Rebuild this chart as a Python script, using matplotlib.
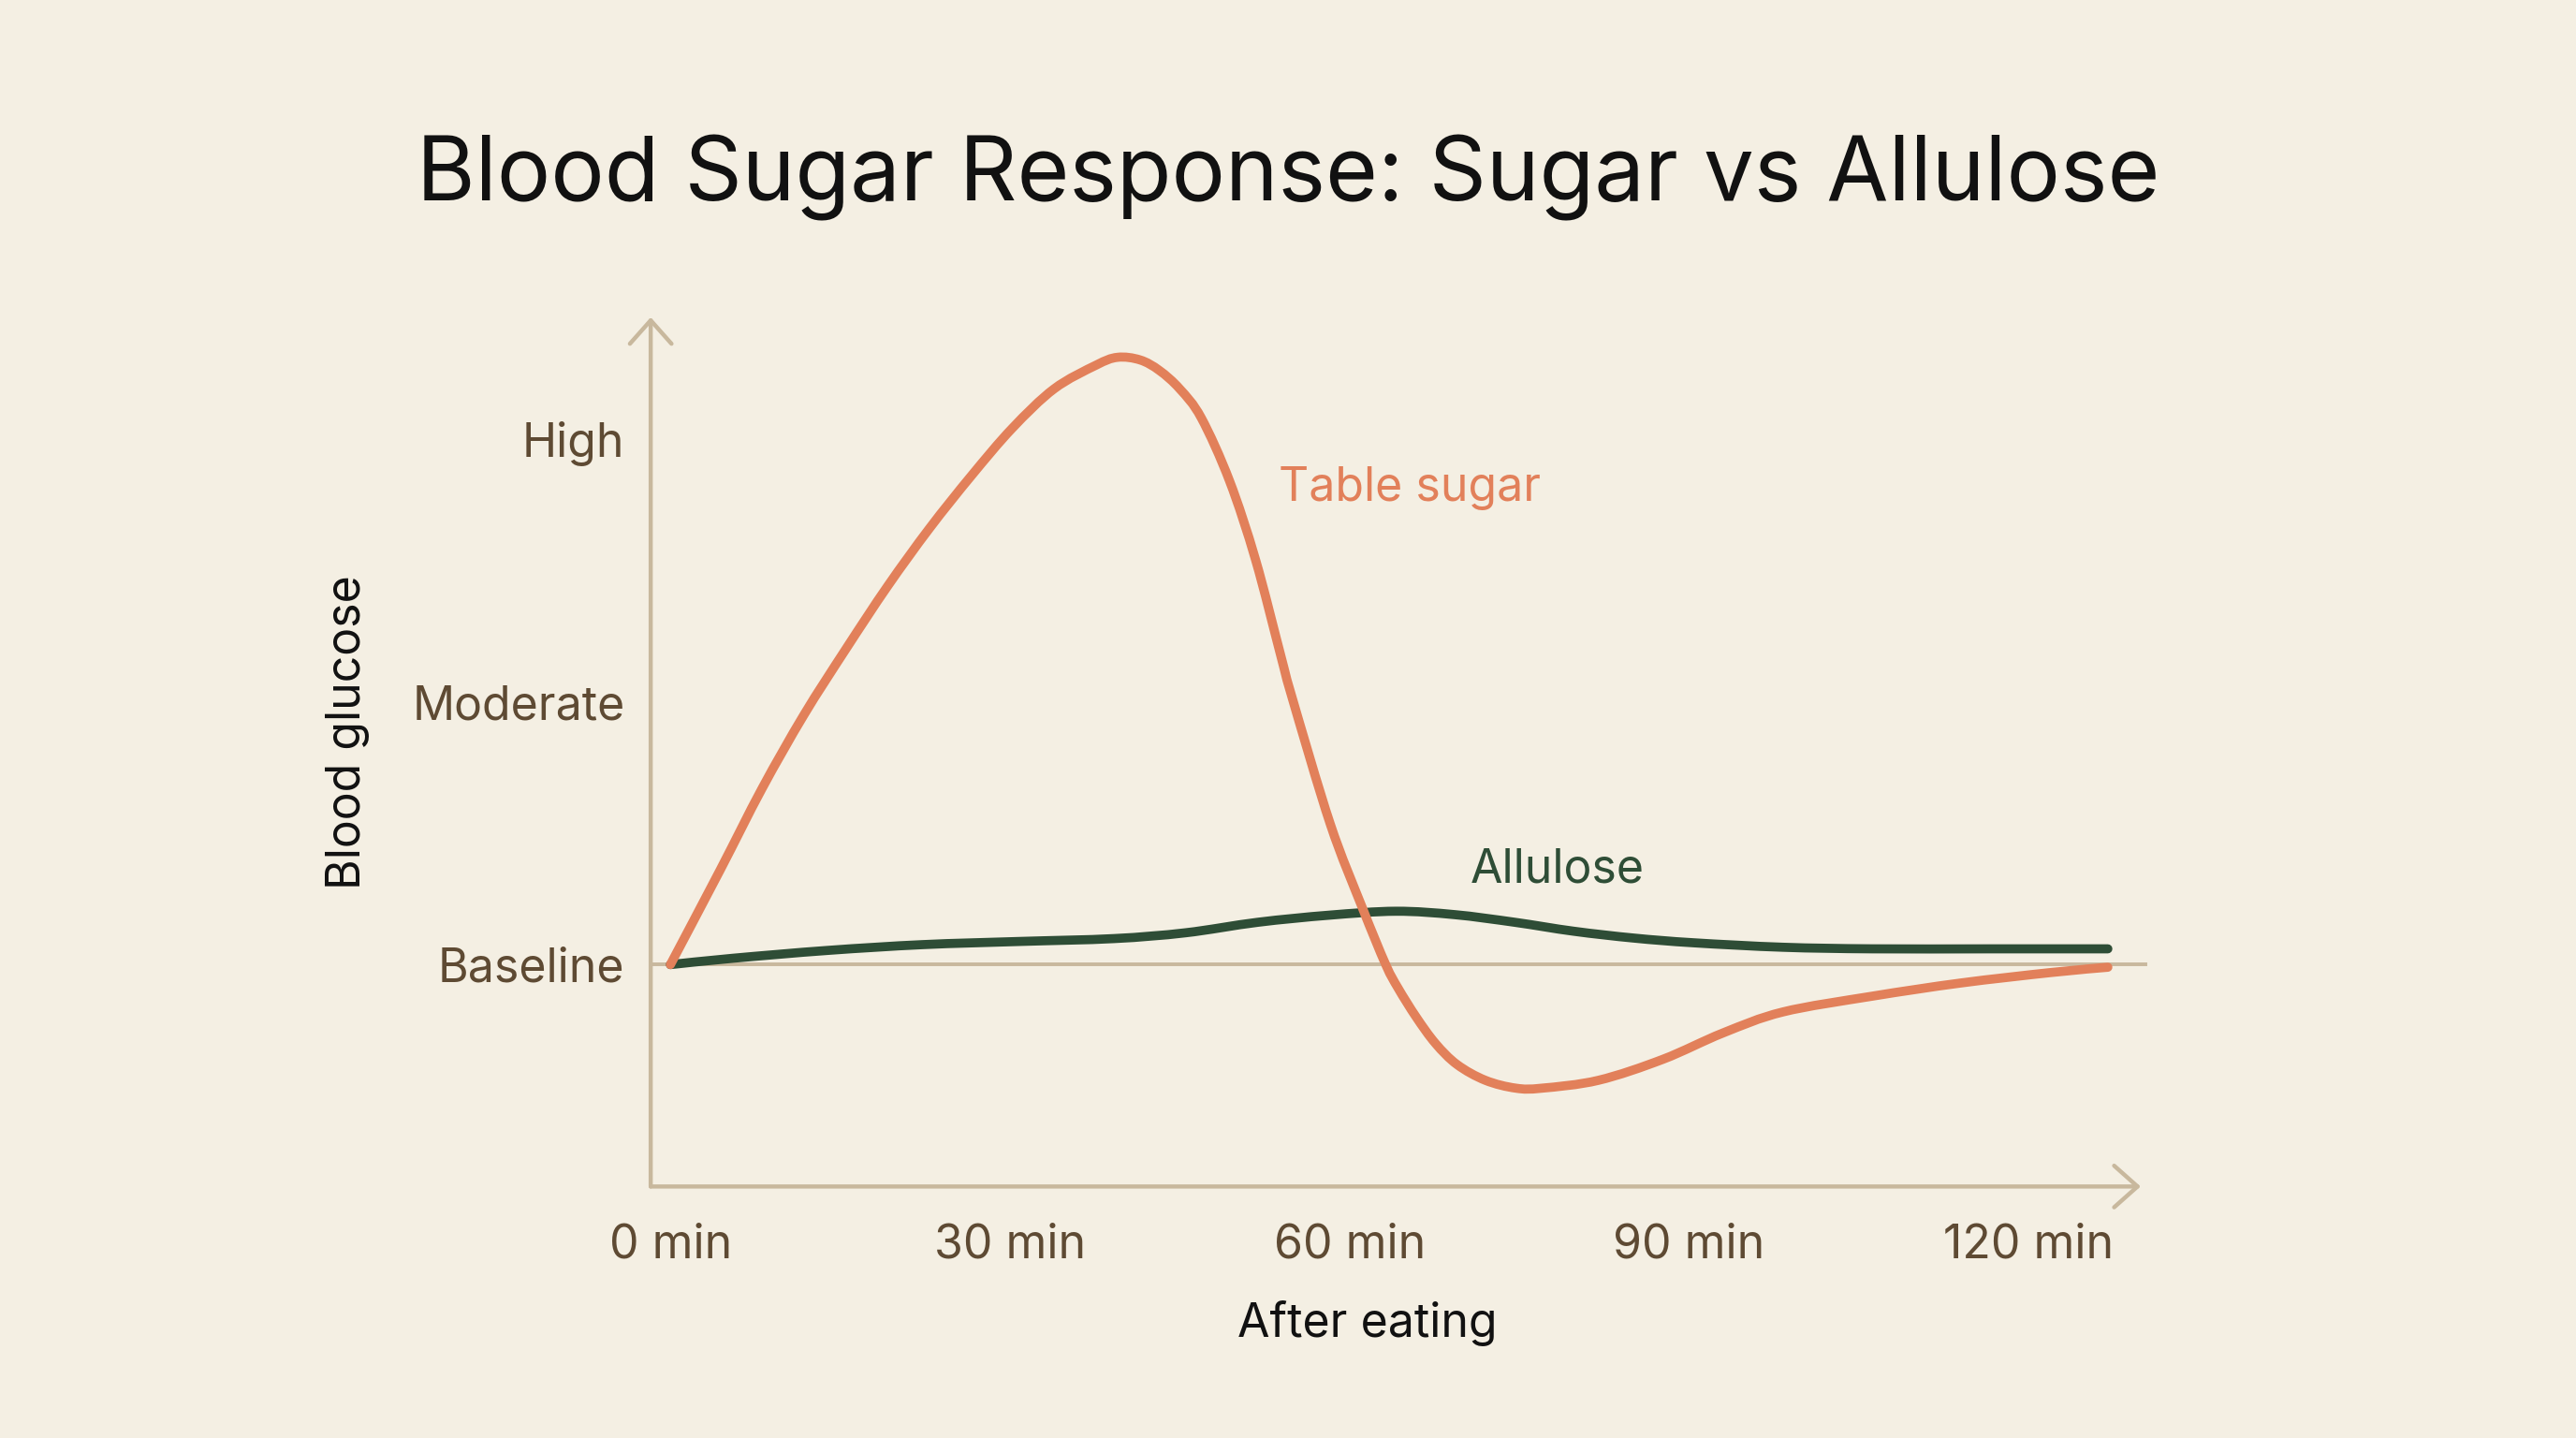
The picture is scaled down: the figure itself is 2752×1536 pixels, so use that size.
import matplotlib
matplotlib.use("Agg")
import numpy as np
import matplotlib.pyplot as plt
from matplotlib.path import Path
from matplotlib.patches import PathPatch

plt.rcParams.update({
    'font.family': ['Inter', 'DejaVu Sans'],
})

# --- Data ---
minutes_sugar = [0, 4.4, 8.1, 11.8, 15.5, 19.2, 22.9, 26.6, 30.2, 33.9, 37.6, 39.5, 41.5,
                 43.2, 45.0, 46.9, 49.4, 51.7, 53.9, 54.9, 58.3, 61.1, 63.2,
                 64.3, 65.9, 67.6, 69.5, 72.0, 74.7, 77.0, 82.0, 87.7, 93.0, 98.3, 106.2,
                 114.0, 122.0, 127.0]
glucose_sugar = [0, 0.36, 0.67, 0.95, 1.20, 1.44, 1.66, 1.86, 2.04, 2.19, 2.28, 2.31, 2.30,
                 2.26, 2.19, 2.08, 1.84, 1.54, 1.18, 1.02, 0.535, 0.22, 0.0,
                 -0.09, -0.20, -0.30, -0.38, -0.44, -0.47, -0.47, -0.44, -0.36, -0.26, -0.18,
                 -0.12, -0.07, -0.03, -0.01]

minutes_allulose = [0, 5.5, 13.9, 22.3, 30.8, 39.2, 45.5, 51.9, 58.2, 64.1, 69.3, 74.6,
                    79.8, 85.1, 90.4, 98.3, 106.2, 116.7, 127.0]
glucose_allulose = [0, 0.024, 0.054, 0.076, 0.088, 0.099, 0.121, 0.161, 0.188, 0.203, 0.19,
                    0.161, 0.127, 0.101, 0.083, 0.066, 0.06, 0.06, 0.06]

x_ticks = [0, 30, 60, 90, 120]
x_tick_labels = ['0 min', '30 min', '60 min', '90 min', '120 min']
y_ticks = [0, 1, 2]
y_tick_labels = ['Baseline', 'Moderate', 'High']

# --- Style ---
bg = '#F4EFE3'
axis_col = '#C8B89D'
tick_col = '#5E4A33'
sugar_col = '#E2805A'
allulose_col = '#2E4D36'


def smooth_path(xs, ys):
    # Catmull-Rom through the points, written as cubic Bezier segments
    p = np.column_stack([xs, ys]).astype(float)
    pad = np.vstack([p[0], p, p[-1]])
    verts = [p[0]]
    codes = [Path.MOVETO]
    for i in range(1, len(pad) - 2):
        p0, p1, p2, p3 = pad[i - 1], pad[i], pad[i + 1], pad[i + 2]
        verts += [p1 + (p2 - p0) / 6.0, p2 - (p3 - p1) / 6.0, p2]
        codes += [Path.CURVE4] * 3
    return Path(verts, codes)


fig = plt.figure(figsize=(13.76, 7.68), dpi=200, facecolor=bg)
ax = fig.add_axes([0.2526, 0.1749, 0.831 - 0.2526, 0.7794 - 0.1749])
ax.set_facecolor(bg)
ax.set_xlim(-1.74, 129.9)
ax.set_ylim(-0.844, 2.4625)

for s in ax.spines.values():
    s.set_visible(False)

# axes drawn as open arrows
arrow_kw = dict(arrowstyle='->,head_length=0.45,head_width=0.4', color=axis_col,
                lw=1.6, shrinkA=0, shrinkB=0, mutation_scale=20)
ax.annotate('', xy=(0, 1), xytext=(0, 0), xycoords='axes fraction', arrowprops=arrow_kw)
ax.annotate('', xy=(1, 0), xytext=(0, 0), xycoords='axes fraction', arrowprops=arrow_kw)

# baseline reference
ax.axhline(0, xmin=0, xmax=1.003, color=axis_col, lw=1.4, zorder=1, clip_on=False)

ax.add_patch(PathPatch(smooth_path(minutes_allulose, glucose_allulose), facecolor='none',
                       edgecolor=allulose_col, lw=3.5, capstyle='round', joinstyle='round',
                       zorder=3))
ax.add_patch(PathPatch(smooth_path(minutes_sugar, glucose_sugar), facecolor='none',
                       edgecolor=sugar_col, lw=3.5, capstyle='round', joinstyle='round',
                       zorder=4))

ax.text(53.7, 1.8125, 'Table sugar', color=sugar_col, fontsize=18, ha='left', va='center')
ax.text(70.7, 0.3625, 'Allulose', color=allulose_col, fontsize=18, ha='left', va='center')

ax.set_xticks(x_ticks)
ax.set_xticklabels(x_tick_labels)
ax.set_yticks(y_ticks)
ax.set_yticklabels(y_tick_labels)
ax.tick_params(axis='both', length=0, labelsize=18, labelcolor=tick_col)
ax.tick_params(axis='x', pad=14)
ax.tick_params(axis='y', pad=10)

fig.text(0.531, 0.08, 'After eating', fontsize=18, color='#111111', ha='center', va='center')
fig.text(0.135, 0.491, 'Blood glucose', fontsize=18, color='#111111', ha='center', va='center',
         rotation=90)
fig.text(0.5, 0.876, 'Blood Sugar Response: Sugar vs Allulose', fontsize=34.5, color='#111111',
         ha='center', va='center')

fig.savefig('out.png', dpi=200, facecolor=bg)
